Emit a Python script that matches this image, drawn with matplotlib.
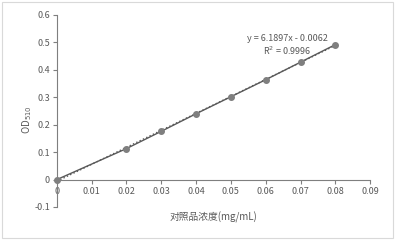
import numpy as np
import matplotlib
matplotlib.use("Agg")
import matplotlib.pyplot as plt
from matplotlib.patches import Rectangle

plt.rcParams['font.family'] = ['Noto Sans CJK SC', 'DejaVu Sans']

FS = 6.5
GRAY = '#595959'

conc = [0, 0.02, 0.03, 0.04, 0.05, 0.06, 0.07, 0.08]
od = [0.0, 0.113, 0.176, 0.240, 0.302, 0.364, 0.428, 0.492]
slope = 6.1897
intercept = -0.0062
xticks = [0, 0.01, 0.02, 0.03, 0.04, 0.05, 0.06, 0.07, 0.08, 0.09]
xticklabels = ["0", "0.01", "0.02", "0.03", "0.04", "0.05", "0.06", "0.07", "0.08", "0.09"]
yticks = [-0.1, 0, 0.1, 0.2, 0.3, 0.4, 0.5, 0.6]
yticklabels = ["-0.1", "0", "0.1", "0.2", "0.3", "0.4", "0.5", "0.6"]

fig = plt.figure(figsize=(3.95, 2.4), dpi=100)
fig.patches.append(Rectangle((0.005, 0.008), 0.99, 0.984, transform=fig.transFigure,
                             fill=False, edgecolor='#D9D9D9', linewidth=0.8))
ax = fig.add_axes([0.144, 0.1375, 0.793, 0.8])

# trendline (dotted) under the data line
xs = np.array([0, conc[-1]])
ax.plot(xs, slope * xs + intercept, ':', color=GRAY, linewidth=1.0)
ax.plot(conc, od, '-o', color=GRAY, markersize=4, linewidth=1.0,
        markerfacecolor='#7F7F7F', markeredgecolor='#7F7F7F',
        clip_on=False, zorder=5)

ax.set_xlim(0, 0.09)
ax.set_ylim(-0.1, 0.6)
ax.set_xticks(xticks)
ax.set_xticklabels(xticklabels)
ax.set_yticks(yticks)
ax.set_yticklabels(yticklabels)

for s in ['top', 'right']:
    ax.spines[s].set_visible(False)
ax.spines['bottom'].set_position(('data', 0))
for s in ['bottom', 'left']:
    ax.spines[s].set_color('#7F7F7F')
    ax.spines[s].set_linewidth(0.8)
ax.tick_params(axis='both', labelsize=FS, labelcolor=GRAY, color='#7F7F7F',
               length=3, width=0.8, direction='out', pad=2)

ax.text(0.045, -0.137, '对照品浓度(mg/mL)', fontsize=FS + 0.5, color=GRAY,
        ha='center', va='center')
ax.text(-0.0085, 0.22, 'OD$_{510}$', fontsize=FS + 0.5, color=GRAY,
        rotation=90, ha='center', va='center')

ax.text(0.0663, 0.516, 'y = 6.1897x - 0.0062', fontsize=FS, color=GRAY,
        ha='center', va='center')
ax.text(0.0663, 0.469, 'R$^2$ = 0.9996', fontsize=FS, color=GRAY,
        ha='center', va='center')

fig.savefig('out.png', dpi=100)
